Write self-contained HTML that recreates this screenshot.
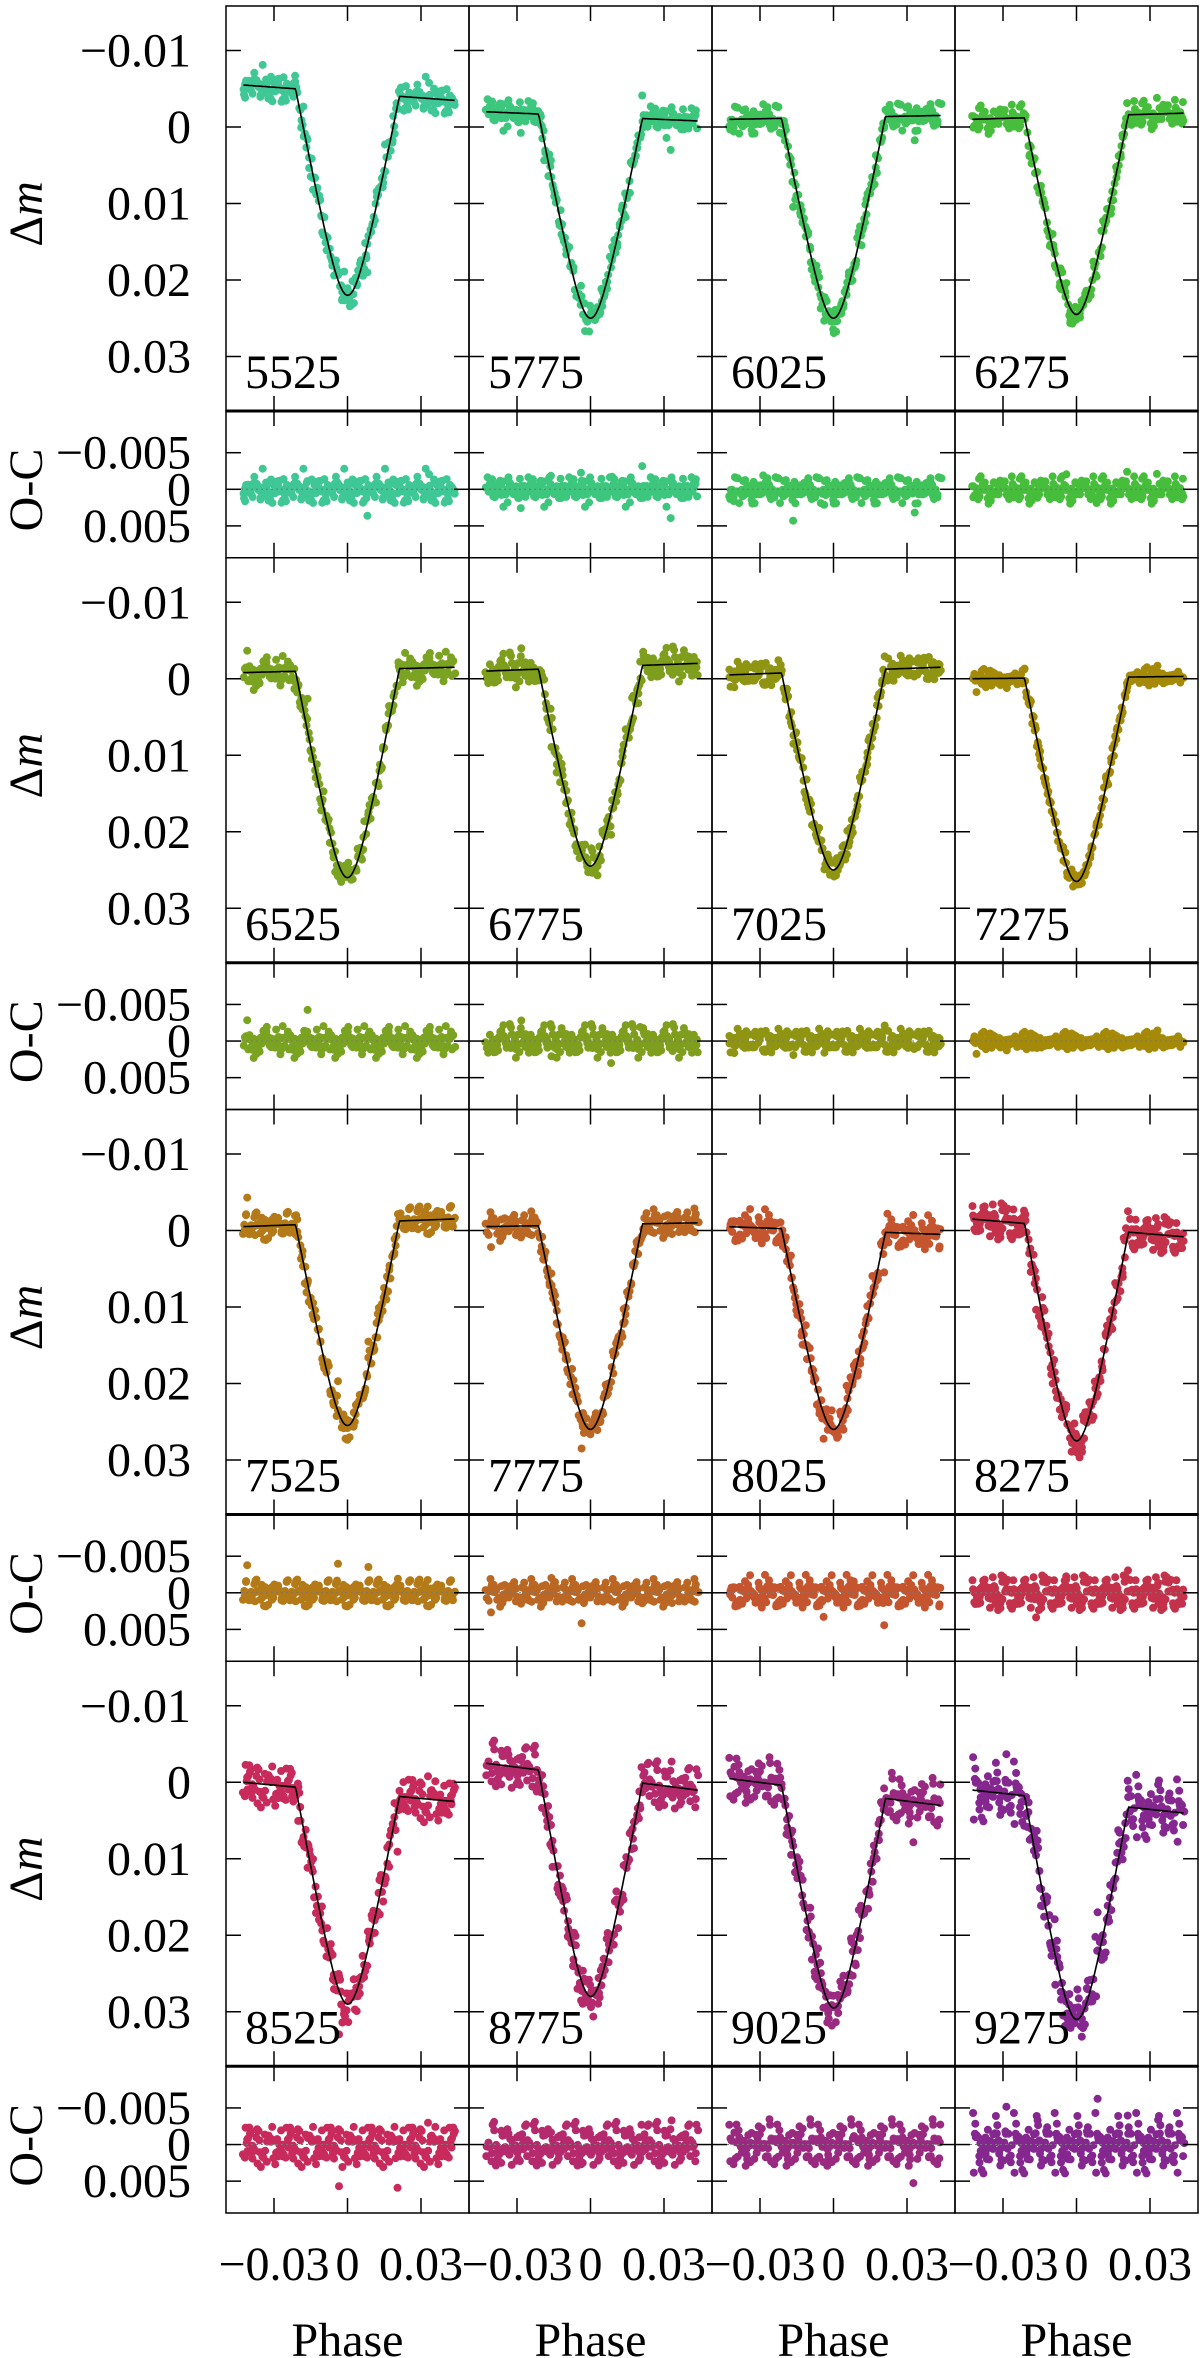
<!DOCTYPE html>
<html><head><meta charset="utf-8"><style>
html,body{margin:0;padding:0;background:#fff}
svg{display:block}
svg text{font-family:"Liberation Serif","DejaVu Serif",serif;fill:#000}
</style></head><body>
<svg id="chart" width="1200" height="2358" viewBox="0 0 1200 2358" xmlns="http://www.w3.org/2000/svg" font-family="'Liberation Serif', 'DejaVu Serif', serif"></svg>
<script>
// ---- data ----
const panelLabels = ["5525","5775","6025","6275","6525","6775","7025","7275","7525","7775","8025","8275","8525","8775","9025","9275"];
const leftLevel  = [-5.5,-2.0,-1.0,-1.0,-0.8,-1.0,-0.5,0.0,-0.5,-0.5,-0.5,-1.5,0.0,-2.5,-0.5,1.0];
const rightLevel = [-3.5,-0.8,-1.5,-1.8,-1.5,-2.0,-1.5,-0.3,-1.5,-1.0,0.5,0.8,2.5,1.0,3.0,4.0];
const minDepth   = [22.0,25.0,25.0,24.5,26.0,24.5,25.0,26.5,25.5,26.0,26.0,27.5,29.0,28.0,29.5,31.0];
const noiseAmp   = [1.5,1.3,1.2,1.2,1.3,1.3,1.2,1.0,1.2,1.2,1.4,1.6,1.9,2.1,2.1,2.4];
const colors = ["#3fc796","#3dc67e","#3fc35a","#47bd3c","#7ba322","#7f9e1e","#8f9512","#a58a0a","#b47a18","#bb6724","#c4552e","#c3324a","#c82a5c","#b42a6c","#9a2a80","#84278f"];
const residualPattern = [0.3,-0.8,1.1,-0.2,0.6,-1.3,0.1,0.9,-0.5,-1.0,1.4,0.2,-0.7,0.5,-0.1,1.0,-1.2,0.4,0.8,-0.4,
 -0.9,1.2,0.0,-0.3,0.7,-1.5,0.6,0.2,-0.6,1.3,-0.2,0.9,-1.1,0.3,-0.8,0.5,1.6,-0.4,0.1,-1.0,
 0.7,-0.3,1.0,-0.6,0.2,-1.4,0.8,0.4,-0.9,0.0];
const mainTicks = [-0.01,0,0.01,0.02,0.03];
const mainTickLabels = ["\u22120.01","0","0.01","0.02","0.03"];
const ocTicks = [-0.005,0,0.005];
const ocTickLabels = ["\u22120.005","0","0.005"];
const xTicks = [-0.03,0,0.03];
const xTickLabels = ["\u22120.03","0","0.03"];

// ---- layout ----
const svg = document.getElementById('chart');
const NS = 'http://www.w3.org/2000/svg';
const FONT = "'Liberation Serif', 'DejaVu Serif', serif";
const colX = [226,469,712,955];
const colW = 243;
const blockTop = 6, blockH = 551.75, mainH = 405;
function xScale(col, p){ return colX[col] + 121.5 + p*2450; }
function yMain(row, v){ return blockTop + row*blockH + 121 + v*7650; }
function yOC(row, v){ return blockTop + row*blockH + 483.3 + v*7320; }
function mk(tag, attrs, parent){ const e=document.createElementNS(NS,tag); for(const k in attrs) e.setAttribute(k,attrs[k]); if(tag==='text') e.setAttribute('font-family',FONT); (parent||svg).appendChild(e); return e; }
function shape(u){ const c=0.28; const a=Math.sqrt(1+c*c); return (a-Math.sqrt(u*u+c*c))/(a-c); }
function model(i,p){
  const base = (leftLevel[i] + (rightLevel[i]-leftLevel[i])*(p+0.043)/0.086)/1000;
  const b0 = (leftLevel[i]+rightLevel[i])/2000;
  const w = 0.0212;
  const u = Math.abs(p)/w;
  if(u>=1) return base;
  return base + (minDepth[i]/1000 - b0)*shape(u);
}

for(let i=0;i<16;i++){
  const row=Math.floor(i/4), col=i%4;
  const g = mk('g',{},svg);
  
  
  const top=blockTop+row*blockH, x0=colX[col];
  const N=260;
  const pts=[];
  for(let k=0;k<N;k++){
    const p=-0.0425+0.0862*k/(N-1)+residualPattern[(k*3+i)%50]*0.0003;
    let r=(residualPattern[(k*7+i*13)%50]*0.8+residualPattern[(k*11+i*5)%50]*0.45)*noiseAmp[i]/1000;
    if(k%37===5) r*=2.2;
    pts.push([p,r]);
  }
  const dm = mk('g',{fill:colors[i]},g);
  
  
  const oc = mk('g',{fill:colors[i]},g);
  
  
  for(const [p,r] of pts){
    mk('circle',{cx:xScale(col,p).toFixed(1),cy:yMain(row,model(i,p)+r).toFixed(1),r:4},dm);
    mk('circle',{cx:xScale(col,p).toFixed(1),cy:yOC(row,r).toFixed(1),r:4},oc);
  }
  let d='';
  for(let k=0;k<=200;k++){ const p=-0.0425+0.0862*k/200; d+=(k?'L':'M')+xScale(col,p).toFixed(1)+','+yMain(row,model(i,p)).toFixed(1); }
  const ml=mk('path',{d:d,fill:'none',stroke:'#000','stroke-width':1.6},g);
  
  
  const zl=mk('line',{x1:x0,x2:x0+colW,y1:yOC(row,0),y2:yOC(row,0),stroke:'#777','stroke-width':1,'stroke-dasharray':'2,3'},g);
  
  
  const tk=mk('g',{stroke:'#000','stroke-width':1.5},g);
  
  
  for(const t of mainTicks){ const y=yMain(row,t); mk('line',{x1:x0,x2:x0+15,y1:y,y2:y},tk); mk('line',{x1:x0+colW-15,x2:x0+colW,y1:y,y2:y},tk); }
  for(const t of ocTicks){ const y=yOC(row,t); mk('line',{x1:x0,x2:x0+15,y1:y,y2:y},tk); mk('line',{x1:x0+colW-15,x2:x0+colW,y1:y,y2:y},tk); }
  for(const t of xTicks){ const x=xScale(col,t);
    mk('line',{x1:x,x2:x,y1:top,y2:top+15},tk); mk('line',{x1:x,x2:x,y1:top+mainH-15,y2:top+mainH},tk);
    mk('line',{x1:x,x2:x,y1:top+mainH,y2:top+mainH+15},tk); mk('line',{x1:x,x2:x,y1:top+blockH-15,y2:top+blockH},tk); }
  const fr=mk('rect',{x:x0,y:top,width:colW,height:mainH,fill:'none',stroke:'#000','stroke-width':1.5},g);
  
  
  const fr2=mk('rect',{x:x0,y:top+mainH,width:colW,height:blockH-mainH,fill:'none',stroke:'#000','stroke-width':1.5},g);
  
  
  mk('line',{x1:x0,x2:x0+colW,y1:top+mainH,y2:top+mainH,stroke:'#000','stroke-width':3},g);
  const lb=mk('text',{x:x0+19,y:top+mainH-23,'font-size':48},g);
  lb.textContent=panelLabels[i];
  
  
}
for(let row=0;row<4;row++){
  const ay=mk('g',{},svg);
  
  
  mainTicks.forEach((t,j)=>{ const e=mk('text',{x:191,y:yMain(row,t)+16,'font-size':48,'text-anchor':'end'},ay); e.textContent=mainTickLabels[j]; });
  ocTicks.forEach((t,j)=>{ const e=mk('text',{x:191,y:yOC(row,t)+16,'font-size':48,'text-anchor':'end'},ay); e.textContent=ocTickLabels[j]; });
  const t1=mk('text',{x:0,y:0,'font-size':48,'text-anchor':'middle',transform:'translate(42,'+(blockTop+row*blockH+208)+') rotate(-90)'},ay);
  t1.innerHTML='\u0394<tspan font-style="italic">m</tspan>';
  
  
  const t2=mk('text',{x:0,y:0,'font-size':48,'text-anchor':'middle',transform:'translate(42,'+(blockTop+row*blockH+484)+') rotate(-90)'},ay);
  t2.textContent='O-C';
  
  
}
for(let col=0;col<4;col++){
  const ax=mk('g',{},svg);
  
  
  xTicks.forEach((t,j)=>{ const e=mk('text',{x:xScale(col,t),y:2280,'font-size':48,'text-anchor':'middle'},ax); e.textContent=xTickLabels[j]; });
  const ph=mk('text',{x:xScale(col,0),y:2356,'font-size':48,'text-anchor':'middle'},ax);
  ph.textContent='Phase';
  
  
}
</script>
</body></html>
